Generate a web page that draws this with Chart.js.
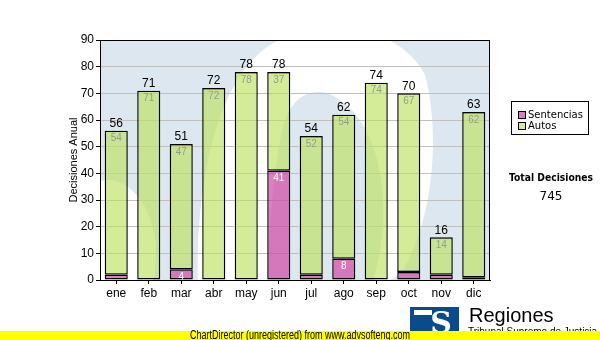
<!DOCTYPE html>
<html>
<head>
<meta charset="utf-8">
<title>Decisiones Anual</title>
<script src="https://cdn.jsdelivr.net/npm/chart.js@4.4.1/dist/chart.umd.min.js"></script>
<style>
  html, body { margin: 0; padding: 0; background: #ffffff; }
  canvas { display: block; }
</style>
</head>
<body>
<canvas id="decisiones-chart" width="600" height="340"></canvas>
<script>
// Decisiones por mes, apiladas: sentencias abajo, autos encima
const meses = ['ene', 'feb', 'mar', 'abr', 'may', 'jun', 'jul', 'ago', 'sep', 'oct', 'nov', 'dic'];
const sentencias = [2, 0, 4, 0, 0, 41, 2, 8, 0, 3, 2, 1];
const autos = [54, 71, 47, 72, 78, 37, 52, 54, 74, 67, 14, 62];
const yTicks = [0, 10, 20, 30, 40, 50, 60, 70, 80, 90];

const FONT = '"Liberation Sans", Arial, sans-serif';
const FONT_UI = '"DejaVu Sans", Verdana, sans-serif';

const totales = meses.map((m, i) => sentencias[i] + autos[i]);
const totalDecisiones = totales.reduce((a, b) => a + b, 0);

// texto comprimido horizontalmente hasta un ancho dado
function textoAncho(ctx, txt, x, y, ancho) {
  const w = ctx.measureText(txt).width;
  ctx.save();
  ctx.translate(x, y);
  ctx.scale(ancho / w, 1);
  ctx.fillText(txt, 0, 0);
  ctx.restore();
}

// Fondo del área de trazado: azul claro con la "S" blanca de marca de agua
const fondoPlugin = {
  id: 'fondo',
  beforeDraw(chart) {
    const { ctx, chartArea: a } = chart;
    ctx.save();
    ctx.beginPath();
    ctx.rect(a.left, a.top, a.right - a.left, a.bottom - a.top);
    ctx.clip();
    ctx.fillStyle = '#dde7f0';
    ctx.fillRect(a.left, a.top, a.right - a.left, a.bottom - a.top);

    ctx.fillStyle = '#ffffff';
    // arco superior de la S
    ctx.beginPath();
    ctx.moveTo(198, 290);
    ctx.bezierCurveTo(195, 190, 215, 80, 270, 45);
    ctx.bezierCurveTo(320, 15, 400, 25, 425, 75);
    ctx.bezierCurveTo(440, 130, 435, 220, 400, 275);
    ctx.lineTo(370, 290);
    ctx.bezierCurveTo(395, 220, 385, 130, 340, 100);
    ctx.bezierCurveTo(315, 82, 290, 95, 282, 130);
    ctx.bezierCurveTo(272, 180, 268, 240, 268, 290);
    ctx.closePath();
    ctx.fill();
    // remate inferior izquierdo
    ctx.beginPath();
    ctx.ellipse(108, 255, 48, 75, 0, 0, Math.PI * 2);
    ctx.fill();
    ctx.restore();
  }
};

// Etiquetas: total encima de cada barra y valor de cada tramo dentro
const etiquetasPlugin = {
  id: 'etiquetas',
  afterDatasetsDraw(chart) {
    const { ctx } = chart;
    const metaSent = chart.getDatasetMeta(0);
    const metaAutos = chart.getDatasetMeta(1);
    ctx.save();
    ctx.textAlign = 'center';
    meses.forEach((m, i) => {
      const barAutos = metaAutos.data[i];
      const barSent = metaSent.data[i];
      const topY = Math.min(barAutos.y, barSent.y);

      ctx.font = '12px ' + FONT;
      ctx.fillStyle = '#000000';
      ctx.textBaseline = 'bottom';
      ctx.fillText(String(totales[i]), barAutos.x, topY - 1);

      ctx.font = '10px ' + FONT;
      ctx.textBaseline = 'top';
      if (autos[i] > 0) {
        ctx.fillStyle = '#949c8c';
        ctx.fillText(String(autos[i]), barAutos.x, barAutos.y + 3);
      }
      if (sentencias[i] >= 4) {
        ctx.fillStyle = '#ffffff';
        ctx.fillText(String(sentencias[i]), barSent.x, barSent.y + 3);
      }
    });
    ctx.restore();
  }
};

// Marco, título del eje, leyenda, total, logotipo y franja inferior
const decoracionPlugin = {
  id: 'decoracion',
  afterDraw(chart) {
    const { ctx, chartArea: a } = chart;
    ctx.save();

    ctx.strokeStyle = '#000000';
    ctx.lineWidth = 1;
    ctx.strokeRect(a.left + 0.5, a.top + 0.5, a.right - a.left - 1, a.bottom - a.top);

    // título del eje Y
    ctx.save();
    ctx.translate(74, (a.top + a.bottom) / 2);
    ctx.rotate(-Math.PI / 2);
    ctx.font = '11px ' + FONT;
    ctx.fillStyle = '#000000';
    ctx.textAlign = 'center';
    ctx.textBaseline = 'middle';
    ctx.fillText('Decisiones Anual', 0, 0);
    ctx.restore();

    // leyenda
    ctx.fillStyle = '#ffffff';
    ctx.fillRect(511, 101, 78, 34);
    ctx.strokeRect(511.5, 101.5, 77, 33);
    const items = chart.data.datasets.map(d => ({ label: d.label, color: d.legendColor }));
    items.forEach((it, k) => {
      const y = 111 + k * 11;
      ctx.fillStyle = it.color;
      ctx.fillRect(518, y, 7, 7);
      ctx.strokeStyle = '#000000';
      ctx.strokeRect(518.5, y + 0.5, 7, 7);
      ctx.fillStyle = '#000000';
      ctx.font = '10px ' + FONT_UI;
      ctx.textAlign = 'left';
      ctx.textBaseline = 'middle';
      ctx.fillText(it.label, 528, y + 4);
    });

    // total anual
    ctx.textAlign = 'center';
    ctx.textBaseline = 'middle';
    ctx.font = 'bold 11px ' + FONT_UI;
    textoAncho(ctx, 'Total Decisiones', 551, 178, 84);
    ctx.font = '12px ' + FONT_UI;
    ctx.fillText(String(totalDecisiones), 551, 197);

    // logotipo
    ctx.fillStyle = '#0b4b8c';
    ctx.fillRect(410, 307, 49, 26);
    ctx.fillStyle = '#ffffff';
    ctx.font = 'bold 30px "DejaVu Serif", serif';
    ctx.textAlign = 'center';
    ctx.textBaseline = 'alphabetic';
    ctx.fillText('S', 441, 333);
    ctx.fillRect(414, 310, 18, 5);

    ctx.fillStyle = '#000000';
    ctx.textAlign = 'left';
    ctx.font = '20px ' + FONT;
    ctx.fillText('Regiones', 469, 322);
    ctx.font = '10px ' + FONT;
    ctx.fillText('Tribunal Supremo de Justicia', 468, 335);

    // franja amarilla inferior
    ctx.fillStyle = '#ffff00';
    ctx.fillRect(0, 331, 600, 9);
    ctx.fillStyle = '#000000';
    ctx.font = '12px ' + FONT;
    ctx.textAlign = 'center';
    ctx.textBaseline = 'middle';
    textoAncho(ctx, 'ChartDirector (unregistered) from www.advsofteng.com', 300, 335.5, 220);

    ctx.restore();
  }
};

const ctx = document.getElementById('decisiones-chart').getContext('2d');

new Chart(ctx, {
  type: 'bar',
  data: {
    labels: meses,
    datasets: [
      {
        label: 'Sentencias',
        data: sentencias,
        backgroundColor: 'rgba(208, 58, 158, 0.65)',
        legendColor: '#e07fc0',
        borderColor: '#000000',
        borderWidth: 1.4,
        borderSkipped: false
      },
      {
        label: 'Autos',
        data: autos,
        backgroundColor: 'rgba(189, 226, 97, 0.65)',
        legendColor: '#d4ec98',
        borderColor: '#000000',
        borderWidth: 1.4,
        borderSkipped: false
      }
    ]
  },
  options: {
    responsive: false,
    animation: false,
    barPercentage: 0.71,
    categoryPercentage: 1,
    layout: {
      padding: { left: 60, right: 110, top: 40, bottom: 40 }
    },
    plugins: {
      legend: { display: false },
      tooltip: { enabled: false }
    },
    scales: {
      x: {
        stacked: true,
        afterFit: s => { s.height = 20; },
        grid: {
          display: true,
          drawOnChartArea: false,
          offset: false,
          tickLength: 4,
          tickColor: '#000000'
        },
        border: { display: true, color: '#000000' },
        ticks: {
          color: '#000000',
          padding: 2,
          font: { family: FONT, size: 12 }
        }
      },
      y: {
        stacked: true,
        min: 0,
        max: 90,
        afterFit: s => { s.width = 40; },
        afterBuildTicks: s => { s.ticks = yTicks.map(v => ({ value: v })); },
        grid: {
          color: '#c0c0c0',
          tickLength: 4,
          tickColor: '#000000'
        },
        border: { display: true, color: '#000000' },
        ticks: {
          color: '#000000',
          padding: 2,
          font: { family: FONT, size: 12 }
        }
      }
    }
  },
  plugins: [fondoPlugin, etiquetasPlugin, decoracionPlugin]
});
</script>
</body>
</html>
